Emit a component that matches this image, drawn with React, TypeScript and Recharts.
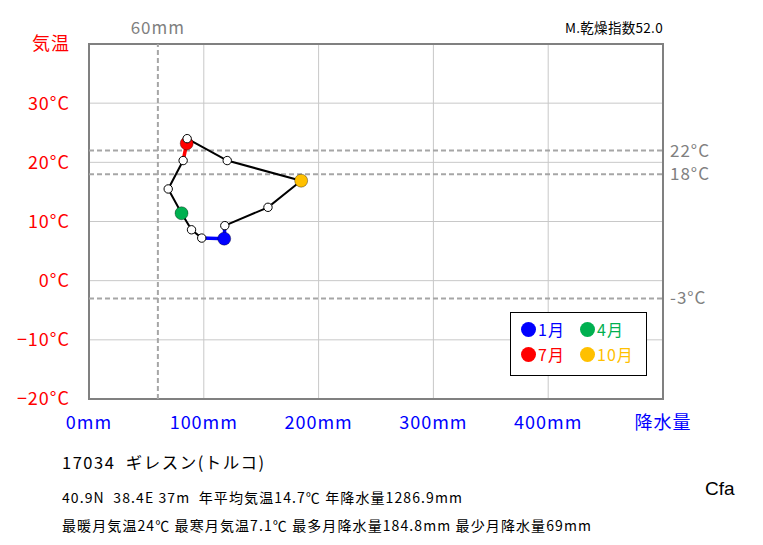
import React from "react";
import {
  ScatterChart,
  Scatter,
  XAxis,
  YAxis,
  CartesianGrid,
  ReferenceLine,
  ReferenceArea,
  Legend,
} from "recharts";

// monthly normals, Giresun
const MONTHS = ["1月", "2月", "3月", "4月", "5月", "6月", "7月", "8月", "9月", "10月", "11月", "12月"];
const PRECIP = [117.8, 98.2, 89.3, 80.6, 69.0, 82.0, 85.1, 85.5, 120.4, 184.8, 155.9, 118.3];
const TEMP = [7.1, 7.2, 8.6, 11.4, 15.5, 20.3, 23.2, 24.0, 20.3, 16.9, 12.4, 9.3];

const MARKED = [0, 3, 6, 9];
const MARK_COLORS = ["#0000ff", "#00b050", "#ff0000", "#ffc000"];

const X_TICKS = [0, 100, 200, 300, 400, 500];
const Y_TICKS = [-20, -10, 0, 10, 20, 30, 40];
const TEMP_LINES = [22, 18, -3];
const PRECIP_LINE = 60;

const FONT = "'Noto Sans CJK JP', 'Noto Sans', sans-serif";
const GRAY = "#a6a6a6";

const points = MONTHS.map((m, i) => ({ month: m, p: PRECIP[i], t: TEMP[i] }));
const loop = [...points, points[0]];
const winter = [points[11], points[0], points[1]];
const summer = [points[5], points[6], points[7]];
const colored = MARKED.map((i, k) => ({ ...points[i], color: MARK_COLORS[k] }));
const plain = points.filter((_, i) => !MARKED.includes(i));

const noShape = () => <g />;

const ColorDot = (props: any) => (
  <circle cx={props.cx} cy={props.cy} r={6.5} fill={props.payload.color} stroke="rgba(0,0,0,0.35)" strokeWidth={1} />
);

const WhiteDot = (props: any) => (
  <circle cx={props.cx} cy={props.cy} r={4.2} fill="#fff" stroke="#000" strokeWidth={1} />
);

const LegendBox = () => (
  <div
    style={{
      position: "relative",
      width: 137,
      height: 64,
      boxSizing: "border-box",
      border: "1px solid #000",
      background: "#fff",
      fontFamily: FONT,
      fontSize: 16,
      letterSpacing: 1,
    }}
  >
    {colored.map((c, k) => {
      const left = (k % 2) * 59;
      const top = Math.floor(k / 2) * 25;
      return (
        <div key={c.month} style={{ position: "absolute", left: left + 10, top: top + 7, display: "flex", alignItems: "center", height: 18 }}>
          <span style={{ display: "inline-block", width: 15, height: 15, borderRadius: "50%", background: c.color }} />
          <span style={{ color: c.color, marginLeft: 2, lineHeight: "18px" }}>{c.month}</span>
        </div>
      );
    })}
  </div>
);

const textBase: React.CSSProperties = { position: "absolute", fontFamily: FONT, color: "#000", whiteSpace: "pre" };

export default function App() {
  return (
    <div style={{ position: "absolute", left: 0, top: 0, width: 763, height: 545, background: "#fff" }}>
      <ScatterChart width={763} height={545} margin={{ top: 44, right: 100, bottom: 116, left: 0 }}>
        <CartesianGrid stroke="#c8c8c8" strokeWidth={1} />
        <XAxis
          type="number"
          dataKey="p"
          domain={[0, 500]}
          ticks={X_TICKS}
          height={30}
          axisLine={false}
          tickLine={false}
          tickSize={0}
          tickMargin={17}
          interval={0}
          tick={{ fill: "#0000ff", fontSize: 18, fontFamily: FONT, letterSpacing: 1 }}
          tickFormatter={(v: number) => (v === 500 ? "降水量" : `${v}mm`)}
        />
        <YAxis
          type="number"
          dataKey="t"
          domain={[-20, 40]}
          ticks={Y_TICKS}
          width={89}
          axisLine={false}
          tickLine={false}
          tickSize={0}
          tickMargin={19}
          interval={0}
          tick={{ fill: "#ff0000", fontSize: 18, fontFamily: FONT, letterSpacing: 1 }}
          tickFormatter={(v: number) => (v === 40 ? "気温" : `${v < 0 ? "−" + Math.abs(v) : v}°C`)}
        />
        <ReferenceArea x1={0} x2={500} y1={-20} y2={40} fill="none" stroke="#808080" strokeWidth={2} />
        <ReferenceLine
          x={PRECIP_LINE}
          stroke={GRAY}
          strokeWidth={2}
          strokeDasharray="5 3"
          label={{ value: `${PRECIP_LINE}mm`, position: "top", offset: 10, fill: "#808080", fontSize: 17, fontFamily: FONT, letterSpacing: 1 }}
        />
        {TEMP_LINES.map((t) => (
          <ReferenceLine
            key={t}
            y={t}
            stroke={GRAY}
            strokeWidth={2}
            strokeDasharray="5 3"
            label={{ value: `${t}°C`, position: "right", offset: 7, fill: "#808080", fontSize: 17, fontFamily: FONT, letterSpacing: 1 }}
          />
        ))}
        <Scatter data={loop} isAnimationActive={false} line={{ stroke: "#000", strokeWidth: 2 }} shape={noShape} />
        <Scatter data={winter} isAnimationActive={false} line={{ stroke: "#0000ff", strokeWidth: 3.5 }} shape={noShape} />
        <Scatter data={summer} isAnimationActive={false} line={{ stroke: "#ff0000", strokeWidth: 3.5 }} shape={noShape} />
        <Scatter data={colored} isAnimationActive={false} shape={ColorDot} />
        <Scatter data={plain} isAnimationActive={false} shape={WhiteDot} />
        <Legend
          layout="horizontal"
          verticalAlign="middle"
          align="center"
          content={() => <LegendBox />}
          wrapperStyle={{ left: 510, top: 312, width: 137, height: 64 }}
        />
      </ScatterChart>

      <div style={{ ...textBase, left: 565, top: 18, fontSize: 13.5, lineHeight: "18px", letterSpacing: 0.3 }}>M.乾燥指数52.0</div>
      <div style={{ ...textBase, left: 62, top: 451, fontSize: 16.5, lineHeight: "22px", letterSpacing: 1.5 }}>17034  ギレスン(トルコ)</div>
      <div style={{ ...textBase, left: 62, top: 488, fontSize: 14, lineHeight: "18px", letterSpacing: 1.1 }}>
        40.9N  38.4E 37m  年平均気温14.7℃ 年降水量1286.9mm
      </div>
      <div style={{ ...textBase, left: 62, top: 516, fontSize: 14, lineHeight: "18px", letterSpacing: 1.1 }}>
        最暖月気温24℃ 最寒月気温7.1℃ 最多月降水量184.8mm 最少月降水量69mm
      </div>
      <div style={{ ...textBase, left: 705, top: 477, fontSize: 19, lineHeight: "24px", fontFamily: "'Liberation Sans', Arial, sans-serif" }}>
        Cfa
      </div>
    </div>
  );
}
